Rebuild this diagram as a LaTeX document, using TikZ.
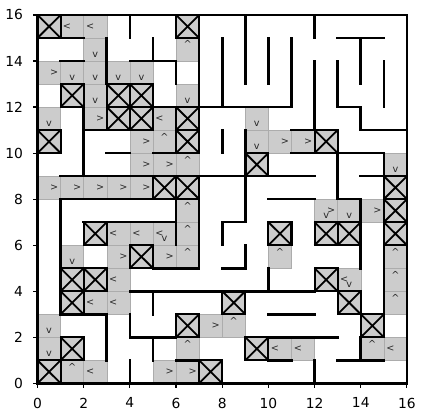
\documentclass[tikz,border=0pt]{standalone}
\usepackage{fontspec}
\setmainfont{DejaVu Sans}
\definecolor{cellgray}{RGB}{204,204,204}
\begin{document}
\begin{tikzpicture}[x=0.7227pt,y=0.7227pt]
\useasboundingbox (0,0) rectangle (425,418);
\begin{scope}[shift={(27.1pt,25.08pt)},x=16.687pt,y=16.637pt,
  gcell/.style={fill=cellgray,draw=gray!65,line width=0.3pt},
  xbox/.style={draw=black,line width=1.5pt},
  xdiag/.style={draw=black,line width=1.3pt},
  wall/.style={draw=black,line width=1.9pt,line cap=rect},
  lab/.style={inner sep=0pt,font=\fontsize{7}{8}\selectfont,text=black!85},
  tick/.style={draw=black,line width=0.8pt},
  ticklab/.style={font=\fontsize{10}{12}\selectfont}]
% gray visited cells
\foreach \c/\r in {1/15,2/15,2/14,6/14,0/13,1/13,2/13,3/13,4/13,2/12,6/12,0/11,2/11,5/11,9/11,
  4/10,5/10,9/10,10/10,11/10,4/9,5/9,6/9,15/9,0/8,1/8,2/8,3/8,4/8,6/7,12/7,13/7,14/7,
  3/6,4/6,5/6,6/6,1/5,3/5,5/5,6/5,10/5,15/5,3/4,13/4,15/4,2/3,3/3,15/3,0/2,7/2,8/2,
  0/1,6/1,10/1,11/1,14/1,15/1,1/0,2/0,5/0,6/0}
  {\path[gcell] (\c,\r) rectangle ++(1,1);}
% X cells
\foreach \c/\r in {0/15,6/15,1/12,3/12,4/12,3/11,4/11,6/11,0/10,6/10,12/10,9/9,5/8,6/8,15/8,15/7,15/6,
  2/6,10/6,12/6,13/6,4/5,1/4,2/4,12/4,1/3,13/3,8/3,6/2,14/2,1/1,9/1,0/0,7/0}
  {\path[fill=cellgray] (\c,\r) rectangle ++(1,1);
   \path[xdiag] (\c,\r) -- ++(1,1) (\c+1,\r) -- ++(-1,1);
   \path[xbox] (\c,\r) rectangle ++(1,1);}
% direction labels
\foreach \c/\r in {0/13,2/11,4/10,10/10,11/10,4/9,5/9,0/8,1/8,2/8,3/8,4/8,12/7,14/7,3/5,5/5,7/2,5/0,6/0}
  {\node[lab] at (\c+0.72,\r+0.5) {>};}
\foreach \c/\r in {1/15,2/15,5/11,3/6,4/6,5/6,3/4,13/4,2/3,3/3,10/1,11/1,15/1,2/0}
  {\node[lab] at (\c+0.28,\r+0.5) {<};}
\foreach \c/\r in {6/14,5/10,6/9,6/7,6/6,6/5,10/5,15/5,15/4,15/3,8/2,6/1,14/1,1/0}
  {\node[lab] at (\c+0.5,\r+0.72) {\textasciicircum};}
\foreach \c/\r in {2/14,1/13,2/13,3/13,4/13,2/12,6/12,0/11,9/11,9/10,15/9,12/7,13/7,5/6,1/5,13/4,0/2,0/1}
  {\node[lab] at (\c+0.5,\r+0.28) {v};}
% walls: vertical x/y1/y2
\foreach \x/\a/\b in {4/15/16,3/13/15,5/14/15,6/13/14,7/12/15,8/12/15,9/13/16,10/13/15,11/12/15,
  12/15/16,12/11/14,13/12/14,14/13/15,14/11/12,15/12/14,2/9/12,8/10/11,9/9/11,7/5/9,6/6/8,
  9/7/9,8/6/7,9/5/6,13/8/10,14/5/8,15/3/10,1/3/8,5/3/4,3/1/3,4/2/3,4/0/1,5/1/2,10/4/5,12/0/1,14/1/2}
  {\path[wall] (\x,\a) -- (\x,\b);}
% walls: horizontal y/x1/x2
\foreach \y/\a/\b in {15/0/2,14/1/2,14/4/6,15/13/15,12/5/11,12/13/14,11/14/16,11/11/12,11/2/3,
  10/3/4,10/5/6,10/11/15,9/1/12,9/14/15,8/1/6,8/10/12,8/13/14,7/2/6,7/8/9,5/5/7,5/8/9,
  4/4/12,3/10/12,3/1/3,2/4/6,2/10/13,1/6/7,1/10/11,1/13/15}
  {\path[wall] (\a,\y) -- (\b,\y);}
% frame
\path[wall] (0,0) rectangle (16,16);
% ticks
\foreach \v in {0,2,...,16}{
  \path[tick] (\v,0) -- ++(0,-3.5pt);
  \node[ticklab,anchor=north] at ([yshift=-7pt]\v,0) {\v};
  \path[tick] (0,\v) -- ++(-3.5pt,0);
  \node[ticklab,anchor=east] at ([xshift=-7pt]0,\v) {\v};
}
\end{scope}
\end{tikzpicture}
\end{document}
